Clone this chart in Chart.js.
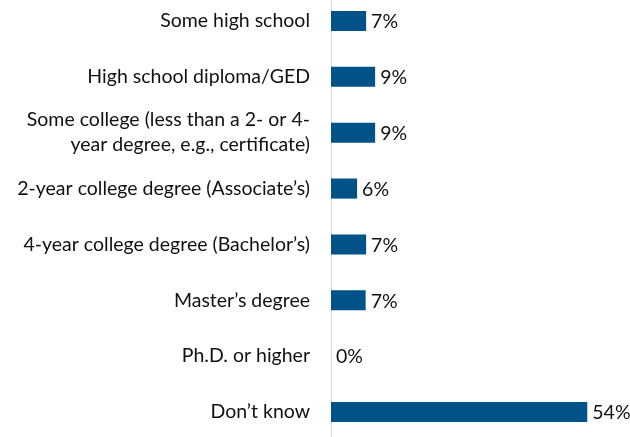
<!DOCTYPE html>
<html>
<head>
<meta charset="utf-8">
<script src="https://cdn.jsdelivr.net/npm/chart.js@4"></script>
<style>
  body { margin: 0; background: #fff; }
  #wrap { width: 630px; height: 437px; overflow: hidden; position: relative; }
  #box { position: absolute; left: 0; top: -7px; width: 630px; height: 447px; }
</style>
</head>
<body>
<div id="wrap"><div id="box"><canvas id="eduChart"></canvas></div></div>
<script>
const categories = [
  'Some high school',
  'High school diploma/GED',
  ['Some college (less than a 2- or 4-', 'year degree, e.g., certificate)'],
  '2-year college degree (Associate\u2019s)',
  '4-year college degree (Bachelor\u2019s)',
  'Master\u2019s degree',
  'Ph.D. or higher',
  'Don\u2019t know'
];
const shares = [7.4, 9.3, 9.3, 5.5, 7.4, 7.3, 0, 54];

// simple value labels at the end of each bar
const barLabels = {
  id: 'barLabels',
  afterDatasetsDraw(chart) {
    const c = chart.ctx;
    const meta = chart.getDatasetMeta(0);
    c.save();
    c.font = '19.5px Lato';
    c.fillStyle = '#111';
    c.textBaseline = 'middle';
    meta.data.forEach(function (bar, i) {
      c.fillText(Math.round(shares[i]) + '%', bar.x + 5, bar.y + 1);
    });
    c.restore();
  }
};

const ctx = document.getElementById('eduChart').getContext('2d');
new Chart(ctx, {
  type: 'bar',
  data: {
    labels: categories,
    datasets: [{
      data: shares,
      backgroundColor: '#005288',
      barPercentage: 0.72,
      categoryPercentage: 0.5
    }]
  },
  options: {
    indexAxis: 'y',
    responsive: true,
    maintainAspectRatio: false,
    animation: false,
    layout: { padding: 0 },
    plugins: {
      legend: { display: false },
      tooltip: { enabled: false }
    },
    scales: {
      x: {
        display: false,
        min: 0,
        max: 63
      },
      y: {
        afterFit: function (scale) {
          scale.width = 331;
          scale.paddingTop = 0;
          scale.paddingBottom = 0;
        },
        grid: { display: false, drawTicks: false },
        border: { display: true, color: '#d9d9d9', width: 1 },
        ticks: {
          color: '#111',
          padding: 21,
          font: { family: 'Lato', size: 19.5, lineHeight: 1.28 }
        }
      }
    }
  },
  plugins: [barLabels]
});
</script>
</body>
</html>
